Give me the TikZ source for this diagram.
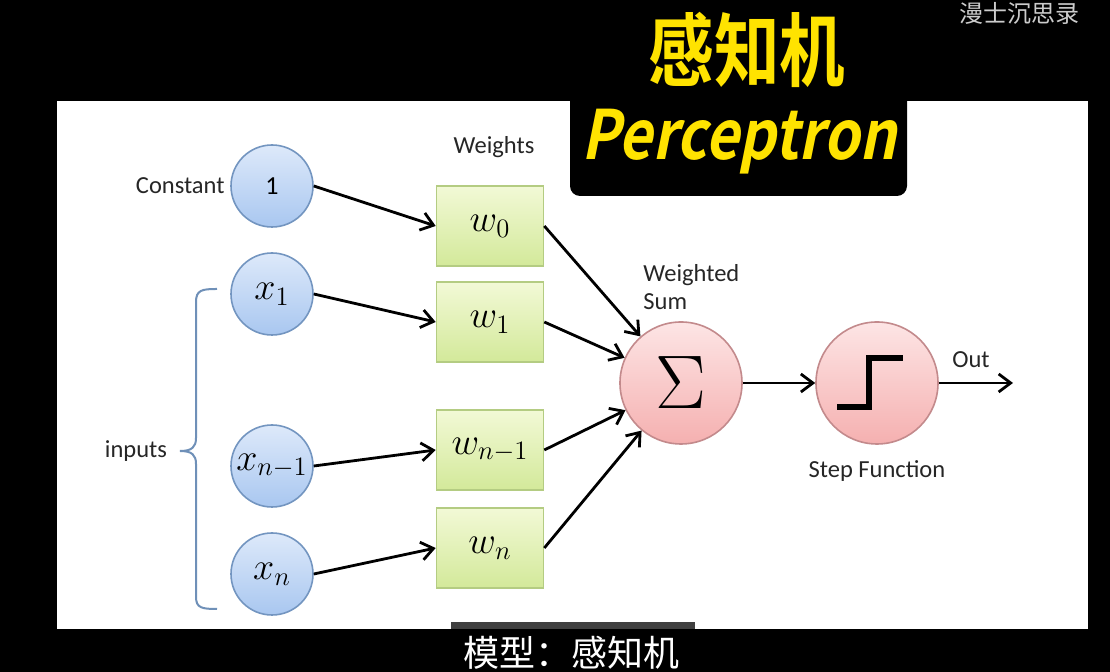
\RequirePackage{fix-cm}
\documentclass[tikz,border=0pt]{standalone}
\usepackage{fontspec}
\setmainfont{Carlito}
\newfontfamily\cjk{Noto Sans CJK SC}
\newfontfamily\titlecjk{Noto Sans CJK SC Bold}[FakeStretch=0.82]
\newfontfamily\titlelat{Noto Sans CJK SC Bold}[FakeStretch=0.85,FakeSlant=0.2]
\usetikzlibrary{arrows.meta}

\definecolor{inputfill}{HTML}{DDE9FA}
\definecolor{inputshade}{HTML}{A9C7F0}
\definecolor{inputline}{HTML}{7395C0}
\definecolor{weightfill}{HTML}{F2F9D6}
\definecolor{weightshade}{HTML}{D3E99A}
\definecolor{weightline}{HTML}{B4CC82}
\definecolor{opfill}{HTML}{FDE5E5}
\definecolor{opshade}{HTML}{F5B0B0}
\definecolor{opline}{HTML}{C38A8C}
\definecolor{titleyellow}{HTML}{FFE300}
\definecolor{bracecol}{HTML}{6F90B8}

\begin{document}
\begin{tikzpicture}[x=0.5pt, y=-0.5pt, >={Straight Barb[length=6pt,width=9pt]},
    inputnode/.style={circle, draw=inputline, line width=0.8pt, top color=inputfill,
        bottom color=inputshade, minimum size=41pt, inner sep=0pt,
        font=\fontsize{19}{21}\selectfont},
    weightbox/.style={rectangle, draw=weightline, line width=0.8pt, top color=weightfill,
        bottom color=weightshade, minimum width=53.5pt, minimum height=40pt, inner sep=0pt,
        font=\fontsize{19}{21}\selectfont},
    opnode/.style={circle, draw=opline, line width=0.8pt, top color=opfill,
        bottom color=opshade, minimum size=61pt, inner sep=0pt},
    txt/.style={font=\fontsize{12.25}{14}\selectfont, text=black!85, inner sep=0pt},
    link/.style={->, line width=1.4pt}]

\useasboundingbox (0,0) rectangle (1110,672);

% Screen
\fill[black] (0,0) rectangle (1110,672);
\fill[white] (57,101) rectangle (1088,629);
\fill[black!75] (451,622) rectangle (695,629);
\fill[black, rounded corners=5pt] (570,-20) rectangle (907,196);

% Titles
\node[font=\titlecjk\fontsize{40}{40}\selectfont, text=titleyellow] (titlezh) at (747,50) {感知机};
\node[font=\titlelat\fontsize{34}{34}\selectfont, text=titleyellow] (titleen) at (739,142) {Perceptron};
\node[font=\cjk\fontsize{12}{12}\selectfont, text=black!20] (channel) at (1019,13) {漫士沉思录};
\node[font=\cjk\fontsize{18}{18}\selectfont, text=white] (subtitle) at (571,653) {模型：感知机};

% Inputs
\node[inputnode] (const) at (272,186) {\fontsize{13}{15}\selectfont 1};
\node[inputnode] (x1) at (272,294) {$x_{1}$};
\node[inputnode] (xn1) at (272,466) {$x_{n-1}$};
\node[inputnode] (xn) at (272,574) {$x_{n}$};

% Weights
\node[weightbox] (w0) at (490,226) {$w_{0}$};
\node[weightbox] (w1) at (490,322) {$w_{1}$};
\node[weightbox] (wn1) at (490,450) {$w_{n-1}$};
\node[weightbox] (wn) at (490,548) {$w_{n}$};

% Sum and step
\node[opnode] (sum) at (681,383) {\fontsize{38}{38}\selectfont$\Sigma$};
\node[opnode] (stepfn) at (877,383) {};
\draw[line width=2.6pt] (837,407) -- (869,407) -- (869,358) -- (903,358);
\coordinate (out) at (1013,383);

% Connections
\foreach \src/\dst in {const/w0, x1/w1, xn1/wn1, xn/wn} {
    \draw[link] (\src.east) -- (\dst.west);
}
\foreach \src in {w0, w1, wn1, wn} {
    \draw[link] (\src.east) -- (sum);
}
\draw[link] (sum) -- (stepfn);
\draw[link] (stepfn) -- (out);

% Labels
\node[txt, anchor=east] (constlbl) at (225,186) {Constant};
\node[txt] (weightslbl) at (494,147) {Weights};
\node[txt, align=left, anchor=west] (sumlbl) at (643,287) {Weighted\\Sum};
\node[txt] (outlbl) at (971,360) {Out};
\node[txt] (steplbl) at (877,471) {Step Function};
\node[txt] (inputslbl) at (136,451) {inputs};

% Brace over the inputs
\draw[bracecol, line width=1pt] (217,289) .. controls (202,289) and (196,290) .. (196,302)
    -- (196,438) .. controls (196,447) and (192,451) .. (180,451)
    .. controls (192,451) and (196,455) .. (196,464)
    -- (196,597) .. controls (196,608) and (202,609) .. (217,609);

\end{tikzpicture}
\end{document}
